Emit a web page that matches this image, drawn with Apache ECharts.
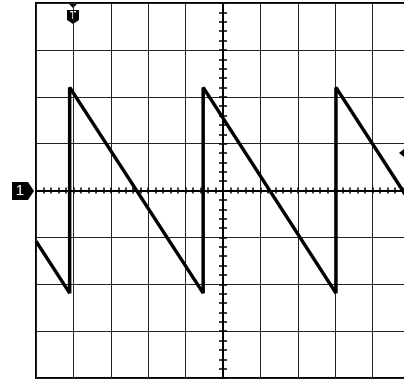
<!DOCTYPE html>
<html>
<head>
<meta charset="utf-8">
<script src="https://cdn.jsdelivr.net/npm/echarts@6/dist/echarts.min.js"></script>
<style>
  html, body { margin: 0; padding: 0; background: #fff; }
  #scope { width: 404px; height: 381px; }
</style>
</head>
<body>
<div id="scope"></div>
<script>
// screen divisions (10 x 8), centre at 0
const divX = [-5, 5];
const divY = [-4, 4];

// sawtooth trace, in divisions
const traceX = [-5, -4.1, -4.1, -0.53, -0.53, 3.02, 3.02, 5];
const traceY = [-1.08, -2.19, 2.2, -2.19, 2.2, -2.19, 2.2, -0.24];

const traceData = traceX.map((x, i) => [x, traceY[i]]);

const chart = echarts.init(document.getElementById("scope"), null, { renderer: "canvas" });

// screen runs a little past the right edge of the photo
const gridW = 374;
const gridH = 375;

// centre graticule line with small ticks, one axis per side of the line
const centreX = (position, grid) => ({
  type: "value",
  min: divX[0],
  max: divX[1],
  interval: 1,
  position,
  offset: -gridH / 2,
  axisLine: { show: true, onZero: false, lineStyle: { color: "#000", width: 2 } },
  axisTick: { show: true, length: 3, lineStyle: { color: "#000", width: 1.5 } },
  minorTick: { show: true, splitNumber: 5, length: 3, lineStyle: { color: "#000", width: 1.5 } },
  axisLabel: { show: false },
  splitLine: { show: grid, lineStyle: { color: "#222", width: 1 } },
});
const centreY = (position, grid) => ({
  type: "value",
  min: divY[0],
  max: divY[1],
  interval: 1,
  position,
  offset: -gridW / 2,
  axisLine: { show: true, onZero: false, lineStyle: { color: "#000", width: 2 } },
  axisTick: { show: true, length: 4, lineStyle: { color: "#000", width: 1.5 } },
  minorTick: { show: true, splitNumber: 5, length: 4, lineStyle: { color: "#000", width: 1.5 } },
  axisLabel: { show: false },
  splitLine: { show: grid, lineStyle: { color: "#222", width: 1 } },
});

const options = {
  animation: false,
  grid: {
    left: 36,
    top: 3,
    width: gridW,
    height: gridH,
    outerBoundsMode: "none",
    containLabel: false,
    show: true,
    borderColor: "#000",
    borderWidth: 2,
    backgroundColor: "#fff",
  },
  xAxis: [centreX("bottom", true), centreX("top", false)],
  yAxis: [centreY("left", true), centreY("right", false)],
  series: [
    {
      type: "line",
      xAxisIndex: 0,
      yAxisIndex: 0,
      data: traceData,
      showSymbol: false,
      lineStyle: { color: "#000", width: 3.5 },
      z: 5,
    },
  ],
  graphic: [
    // channel 1 ground marker
    {
      type: "polygon",
      shape: { points: [[12, 182], [28, 182], [34, 191], [28, 200], [12, 200]] },
      style: { fill: "#000" },
    },
    {
      type: "text",
      x: 20,
      y: 191,
      style: { text: "1", fill: "#fff", font: "15px 'Liberation Sans', Arial", align: "center", verticalAlign: "middle" },
    },
    // trigger position marker
    {
      type: "polygon",
      shape: { points: [[68, 3], [78, 3], [73, 8]] },
      style: { fill: "#000" },
    },
    {
      type: "polygon",
      shape: { points: [[67, 10], [79, 10], [79, 20], [73, 24], [67, 20]] },
      style: { fill: "#000" },
    },
    {
      type: "text",
      x: 73,
      y: 16,
      style: { text: "T", fill: "#fff", font: "bold 10px 'Liberation Sans', Arial", align: "center", verticalAlign: "middle" },
    },
    // trigger level marker
    {
      type: "polygon",
      shape: { points: [[404, 149], [404, 157], [399, 153]] },
      style: { fill: "#000" },
    },
  ],
};

chart.setOption(options);
window.addEventListener("resize", () => {
  chart.resize();
});
</script>
</body>
</html>
